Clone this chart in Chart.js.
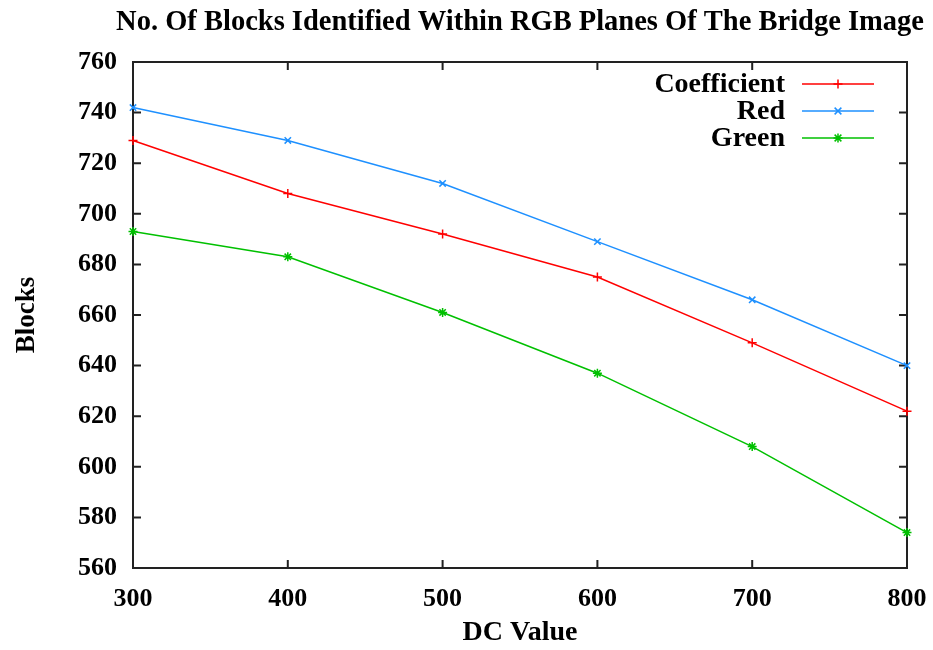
<!DOCTYPE html>
<html>
<head>
<meta charset="utf-8">
<script src="https://cdn.jsdelivr.net/npm/chart.js@4.4.1/dist/chart.umd.min.js"></script>
<style>
    html, body { margin: 0; padding: 0; background: #fff; }
    #wrap { width: 933px; height: 650px; }
</style>
</head>
<body>
<div id="wrap"><canvas id="chart" width="933" height="650"></canvas></div>
<script>
// values
const dcValues = [300, 400, 500, 600, 700, 800];
const coefficientBlocks = [729, 708, 692, 675, 649, 622];
const redBlocks = [742, 729, 712, 689, 666, 640];
const greenBlocks = [693, 683, 661, 637, 608, 574];
const seriesLabels = ['Coefficient', 'Red', 'Green'];
const xTicks = [300, 400, 500, 600, 700, 800];
const yTicks = [560, 580, 600, 620, 640, 660, 680, 700, 720, 740, 760];
const chartTitle = 'No. Of Blocks Identified Within RGB Planes Of The Bridge Image';

const FONT = "'Liberation Serif', 'Times New Roman', serif";

const toPoints = vals => dcValues.map((x, i) => ({ x: x, y: vals[i] }));

const makeSet = (label, vals, color, style) => ({
    label: label,
    data: toPoints(vals),
    borderColor: color,
    backgroundColor: color,
    borderWidth: 1.5,
    pointStyle: style,
    pointRadius: 4.5,
    pointBorderWidth: 1.5,
    pointBorderColor: color,
    tension: 0,
    clip: false
});

// gnuplot style frame: box with inward ticks on all four sides, title over the plot
const framePlugin = {
    id: 'frame',
    beforeDatasetsDraw(chart) {
        const { ctx, chartArea: a, scales } = chart;
        const len = 8;
        ctx.save();
        ctx.strokeStyle = '#222';
        ctx.lineWidth = 2;
        ctx.strokeRect(a.left, a.top, a.right - a.left, a.bottom - a.top);
        ctx.beginPath();
        xTicks.forEach(v => {
            const px = scales.x.getPixelForValue(v);
            ctx.moveTo(px, a.bottom); ctx.lineTo(px, a.bottom - len);
            ctx.moveTo(px, a.top); ctx.lineTo(px, a.top + len);
        });
        yTicks.forEach(v => {
            const py = scales.y.getPixelForValue(v);
            ctx.moveTo(a.left, py); ctx.lineTo(a.left + len, py);
            ctx.moveTo(a.right, py); ctx.lineTo(a.right - len, py);
        });
        ctx.stroke();

        ctx.fillStyle = '#000';
        ctx.font = "bold 28.5px " + FONT;
        ctx.textAlign = 'center';
        ctx.textBaseline = 'alphabetic';
        ctx.fillText(chartTitle, (a.left + a.right) / 2, 30);
        ctx.restore();
    }
};

function drawMarker(ctx, style, x, y, r) {
    ctx.beginPath();
    if (style === 'cross' || style === 'star') {
        ctx.moveTo(x - r, y); ctx.lineTo(x + r, y);
        ctx.moveTo(x, y - r); ctx.lineTo(x, y + r);
    }
    if (style === 'crossRot' || style === 'star') {
        const d = r * 0.75;
        ctx.moveTo(x - d, y - d); ctx.lineTo(x + d, y + d);
        ctx.moveTo(x - d, y + d); ctx.lineTo(x + d, y - d);
    }
    ctx.stroke();
}

// key in the top right corner, text right aligned then sample line
const keyPlugin = {
    id: 'key',
    afterDatasetsDraw(chart) {
        const { ctx, chartArea: a } = chart;
        ctx.save();
        ctx.font = "bold 28px " + FONT;
        ctx.textAlign = 'right';
        ctx.textBaseline = 'middle';
        chart.data.datasets.forEach((ds, i) => {
            const y = a.top + 22 + i * 27;
            ctx.fillStyle = '#000';
            ctx.fillText(ds.label, a.right - 122, y + 1);
            ctx.strokeStyle = ds.borderColor;
            ctx.lineWidth = 1.5;
            ctx.beginPath();
            ctx.moveTo(a.right - 105, y); ctx.lineTo(a.right - 33, y);
            ctx.stroke();
            drawMarker(ctx, ds.pointStyle, a.right - 69, y, 4.5);
        });
        ctx.restore();
    }
};

new Chart(document.getElementById('chart'), {
    type: 'line',
    data: {
        datasets: [
            makeSet(seriesLabels[0], coefficientBlocks, '#ff0000', 'cross'),
            makeSet(seriesLabels[1], redBlocks, '#1e90ff', 'crossRot'),
            makeSet(seriesLabels[2], greenBlocks, '#00c000', 'star')
        ]
    },
    options: {
        responsive: false,
        animation: false,
        devicePixelRatio: 1,
        layout: { padding: { top: 62, right: 26, bottom: 0, left: 0 } },
        plugins: {
            legend: { display: false },
            tooltip: { enabled: false },
            title: { display: false }
        },
        scales: {
            x: {
                type: 'linear',
                min: 300,
                max: 800,
                afterFit: s => { s.height = 82; s.paddingLeft = 0; s.paddingRight = 0; },
                afterBuildTicks: s => { s.ticks = xTicks.map(v => ({ value: v })); },
                grid: { display: false, drawTicks: false },
                border: { display: false },
                ticks: {
                    color: '#000',
                    padding: 16,
                    maxRotation: 0,
                    font: { family: FONT, size: 26, weight: 'bold' }
                },
                title: {
                    display: true,
                    text: 'DC Value',
                    color: '#000',
                    font: { family: FONT, size: 28, weight: 'bold' },
                    padding: { top: 0, bottom: 0 }
                }
            },
            y: {
                min: 560,
                max: 760,
                afterFit: s => { s.width = 133; s.paddingTop = 0; s.paddingBottom = 0; },
                afterBuildTicks: s => { s.ticks = yTicks.map(v => ({ value: v })); },
                grid: { display: false, drawTicks: false },
                border: { display: false },
                ticks: {
                    color: '#000',
                    padding: 16,
                    font: { family: FONT, size: 26, weight: 'bold' }
                },
                title: {
                    display: true,
                    text: 'Blocks',
                    color: '#000',
                    font: { family: FONT, size: 27, weight: 'bold' },
                    padding: { top: 11, bottom: 0 }
                }
            }
        }
    },
    plugins: [framePlugin, keyPlugin]
});
</script>
</body>
</html>
